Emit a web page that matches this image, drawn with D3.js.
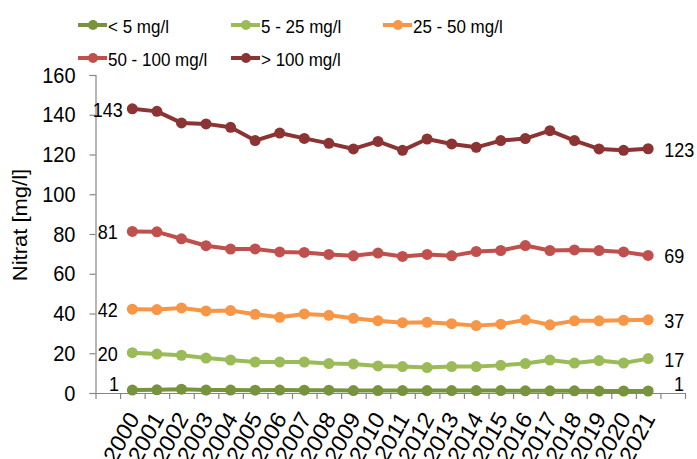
<!DOCTYPE html>
<html>
<head>
<meta charset="utf-8">
<script src="https://cdn.jsdelivr.net/npm/d3@7/dist/d3.min.js"></script>
<style>
  html, body { margin: 0; padding: 0; background: #fff; }
  svg { display: block; font-family: "Liberation Sans", Arial, sans-serif; }
</style>
</head>
<body>
<svg id="chart" width="697" height="459"></svg>
<script>
// ---- data ----
const years = ["2000","2001","2002","2003","2004","2005","2006","2007","2008","2009","2010",
               "2011","2012","2013","2014","2015","2016","2017","2018","2019","2020","2021"];
const seriesNames = ["< 5 mg/l", "5 - 25 mg/l", "25 - 50 mg/l", "50 - 100 mg/l", "> 100 mg/l"];
const lt5     = [1.5, 1.6, 1.9, 1.5, 1.5, 1.4, 1.5, 1.4, 1.4, 1.2, 1.2, 1.2, 1.2, 1.2, 1.2, 1.2, 1.1, 1.1, 1.1, 1.0, 1.0, 1.0];
const r5_25   = [20.3, 19.6, 19.0, 17.6, 16.6, 15.6, 15.6, 15.6, 14.8, 14.6, 13.6, 13.3, 12.8, 13.3, 13.3, 13.9, 14.8, 16.6, 15.1, 16.3, 15.1, 17.3];
const r25_50  = [42.2, 42.0, 42.8, 41.3, 41.5, 39.6, 38.1, 39.8, 39.1, 37.6, 36.4, 35.4, 35.6, 34.9, 33.9, 34.6, 36.8, 34.3, 36.3, 36.3, 36.6, 36.8];
const r50_100 = [81.3, 81.1, 77.6, 74.1, 72.4, 72.5, 71.0, 70.7, 69.7, 69.0, 70.4, 68.7, 69.7, 69.0, 71.2, 71.7, 74.2, 71.7, 72.0, 71.7, 71.0, 69.2];
const gt100   = [143.0, 141.7, 135.9, 135.4, 133.7, 127.0, 130.8, 128.1, 125.6, 122.8, 126.6, 122.1, 127.8, 125.3, 123.6, 127.0, 128.0, 132.0, 127.0, 122.8, 122.1, 122.9];
const firstLabels = ["1", "20", "42", "81", "143"];
const lastLabels  = ["1", "17", "37", "69", "123"];
const colors = ["#77933C", "#9BBB59", "#F79646", "#C0504D", "#8C3333"];
const yTicks = [0, 20, 40, 60, 80, 100, 120, 140, 160];
const yTitle = "Nitrat [mg/l]";

const seriesValues = [lt5, r5_25, r25_50, r50_100, gt100];

// ---- layout ----
const svg = d3.select("#chart");
const mLeft = 95.5, mRight = 685, mTop = 75, mBottom = 393;
const sy = 1.1; // text is slightly taller than wide in the reference
const nCat = years.length + 2; // one empty slot each side
const xLin = d3.scaleLinear().domain([0, nCat]).range([mLeft, mRight]);
const xc = i => xLin(i + 1.5); // center of year i
const y = d3.scaleLinear().domain([0, 160]).range([mBottom, mTop]);
const axisColor = "#868686";

// y axis
const yAxis = svg.append("g").attr("transform", `translate(${mLeft},0)`)
  .call(d3.axisLeft(y).tickValues(yTicks).tickSize(6).tickPadding(14).tickFormat(d3.format("d")));
yAxis.select(".domain").attr("stroke", axisColor).attr("stroke-width", 1.2);
yAxis.selectAll(".tick line").attr("stroke", axisColor).attr("stroke-width", 1.2);
yAxis.selectAll(".tick text").attr("font-size", 20).attr("fill", "#000")
  .attr("font-family", "Liberation Sans, Arial, sans-serif")
  .attr("transform", `scale(1,${sy})`);

// x axis
const xAxis = svg.append("g").attr("transform", `translate(0,${mBottom})`)
  .call(d3.axisBottom(xLin).tickValues(d3.range(nCat + 1)).tickSize(6).tickSizeOuter(0).tickFormat(""));
xAxis.select(".domain").attr("stroke", axisColor).attr("stroke-width", 1.2);
xAxis.selectAll(".tick line").attr("stroke", axisColor).attr("stroke-width", 1.2);

// x labels
svg.append("g").selectAll("text").data(years).join("text")
  .attr("transform", (d, i) => `translate(${xc(i) + 1},${mBottom + 21}) scale(1,${sy}) rotate(-60)`)
  .attr("text-anchor", "end").attr("dy", "0.35em")
  .attr("font-size", 22).attr("fill", "#000").text(d => d);

// y title
svg.append("text")
  .attr("transform", `translate(27,${(mTop + mBottom) / 2 - 9}) scale(1,${sy}) rotate(-90)`)
  .attr("text-anchor", "middle").attr("font-size", 20).attr("fill", "#000").text(yTitle);

// lines
const line = d3.line().x((d, i) => xc(i)).y(d => y(d));
seriesValues.forEach((vals, s) => {
  const g = svg.append("g");
  g.append("path").datum(vals).attr("d", line).attr("fill", "none")
    .attr("stroke", colors[s]).attr("stroke-width", 4).attr("stroke-linejoin", "round");
  g.selectAll("circle").data(vals).join("circle")
    .attr("cx", (d, i) => xc(i)).attr("cy", d => y(d)).attr("r", 5.5).attr("fill", colors[s]);
});

// data labels
const lblY = v => Math.min(y(v), mBottom - 10);
function label(x, yy, anchor, txt) {
  svg.append("text").attr("transform", `translate(${x},${yy}) scale(1,${sy})`)
    .attr("dy", "0.35em").attr("text-anchor", anchor)
    .attr("font-size", 18).attr("fill", "#000").text(txt);
}
seriesValues.forEach((vals, s) => {
  const first = vals[0];
  const cFirst = y(first) > mBottom - 10;
  label(cFirst ? xLin(1) - 1 : xLin(0.5), lblY(first) + 1, cFirst ? "end" : "middle", firstLabels[s]);
  const last = vals[vals.length - 1];
  const cLast = y(last) > mBottom - 10;
  label(cLast ? mRight - 1 : xc(vals.length - 1) + 16, lblY(last) + 1, cLast ? "end" : "start", lastLabels[s]);
});

// legend
const legendPos = [[78, 25], [231, 25], [383, 25], [78, 58], [231, 58]];
const lg = svg.append("g").selectAll("g").data(seriesNames).join("g")
  .attr("transform", (d, i) => `translate(${legendPos[i][0]},${legendPos[i][1]})`);
lg.append("line").attr("x1", 0).attr("x2", 29).attr("stroke", (d, i) => colors[i]).attr("stroke-width", 4);
lg.append("circle").attr("cx", 15).attr("r", 5).attr("fill", (d, i) => colors[i]);
lg.append("text").attr("transform", `translate(30,1) scale(1,${sy})`).attr("dy", "0.35em")
  .attr("font-size", 17).attr("fill", "#000").text(d => d);
</script>
</body>
</html>
